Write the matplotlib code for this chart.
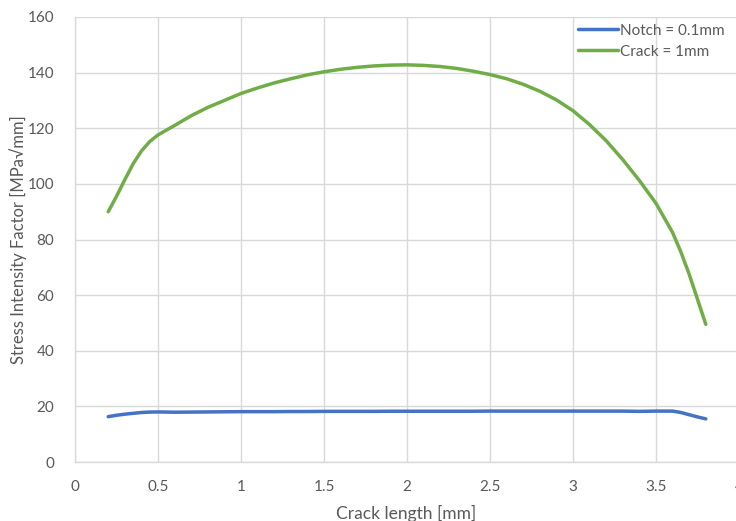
import matplotlib.pyplot as plt
import numpy as np

plt.rcParams['font.family'] = ['Lato', 'DejaVu Sans']

# Crack length [mm]
crack_length = [0.2, 0.25, 0.3, 0.35, 0.4, 0.45, 0.5, 0.6, 0.7, 0.8, 0.9, 1.0, 1.1,
                1.2, 1.3, 1.4, 1.5, 1.6, 1.7, 1.8, 1.9, 2.0, 2.1, 2.2, 2.3, 2.4,
                2.5, 2.6, 2.7, 2.8, 2.9, 3.0, 3.1, 3.2, 3.3, 3.4, 3.5, 3.6, 3.65,
                3.7, 3.75, 3.8]

# Stress intensity factor, notch = 0.1mm
notch = [16.3, 16.8, 17.2, 17.5, 17.8, 17.95, 18.0, 17.9, 17.95, 18.0, 18.05, 18.1,
         18.1, 18.1, 18.15, 18.15, 18.2, 18.2, 18.2, 18.2, 18.25, 18.25, 18.25, 18.25,
         18.25, 18.25, 18.3, 18.3, 18.3, 18.3, 18.3, 18.3, 18.3, 18.3, 18.3, 18.2,
         18.3, 18.3, 17.8, 17.0, 16.2, 15.5]

# Stress intensity factor, crack = 1mm
crack = [90, 95.5, 101.5, 107.2, 111.8, 115.2, 117.6, 121, 124.5, 127.5, 130, 132.5,
         134.5, 136.3, 137.8, 139.2, 140.3, 141.2, 141.9, 142.4, 142.7, 142.8, 142.6,
         142.2, 141.5, 140.5, 139.3, 137.8, 135.8, 133.3, 130.2, 126.3, 121.3, 115.5,
         108.7, 101.2, 93, 82.5, 75.5, 67.5, 58.5, 49.5]

text_color = '#595959'
grid_color = '#D9D9D9'

fig = plt.figure(figsize=(7.36, 5.21), dpi=100)
ax = fig.add_axes([75 / 736, 1 - 462 / 521, 664 / 736, 445 / 521])

ax.plot(crack_length, notch, color='#4472C4', linewidth=2.5, label='Notch = 0.1mm',
        solid_capstyle='round')
ax.plot(crack_length, crack, color='#70AD47', linewidth=2.5, label='Crack = 1mm',
        solid_capstyle='round')

ax.set_xlim(0, 4)
ax.set_ylim(0, 160)
ax.set_xticks(np.arange(0, 4.01, 0.5))
ax.set_xticklabels(['0', '0.5', '1', '1.5', '2', '2.5', '3', '3.5', '4'])
ax.set_yticks(np.arange(0, 161, 20))

ax.grid(True, color=grid_color, linewidth=1)
ax.set_axisbelow(True)
for side in ['top', 'right']:
    ax.spines[side].set_visible(False)
for side in ['left', 'bottom']:
    ax.spines[side].set_color(grid_color)
    ax.spines[side].set_linewidth(1)
ax.tick_params(length=0, labelsize=11, colors=text_color)
ax.tick_params(axis='y', pad=15)
ax.tick_params(axis='x', pad=13)

fig.text(18 / 736, 1 - 240 / 521, 'Stress Intensity Factor [MPa\u221amm]', rotation=90,
         ha='center', va='center', fontsize=12, color=text_color)
fig.text(406 / 736, 1 - 513 / 521, 'Crack length [mm]', ha='center', va='center',
         fontsize=12.5, color=text_color)

leg = ax.legend(loc='upper left', bbox_to_anchor=((578 - 75) / 664, 0.985),
                frameon=False, fontsize=11, handlelength=2.6, handletextpad=0.15,
                labelspacing=0.45, borderpad=0, borderaxespad=0)
for t in leg.get_texts():
    t.set_color(text_color)

fig.savefig('out.png', dpi=100)
